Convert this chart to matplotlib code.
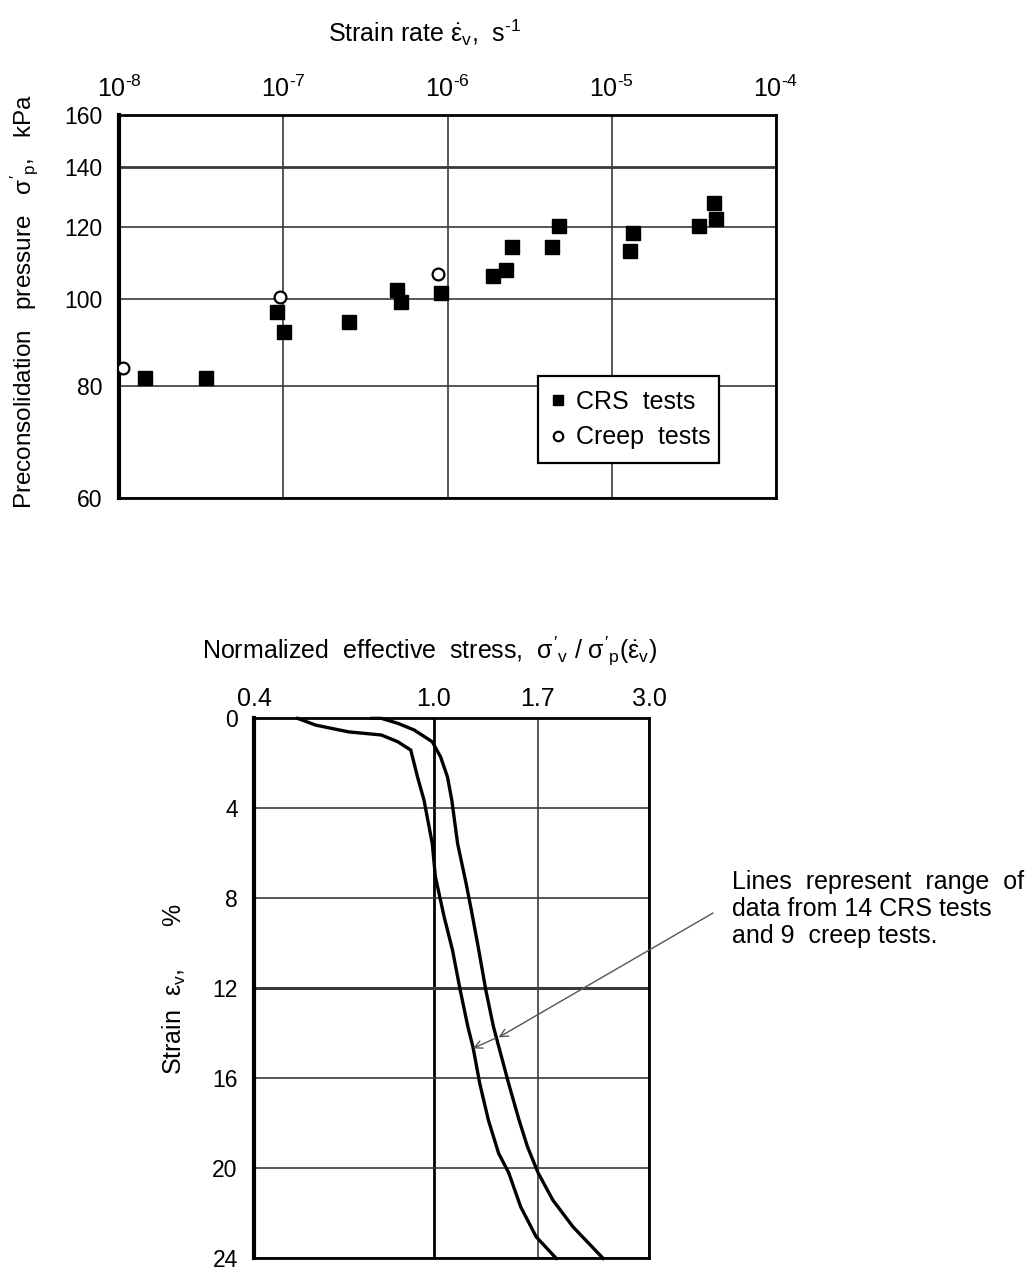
import matplotlib
matplotlib.use("Agg")
import matplotlib.pyplot as plt
from matplotlib.ticker import FixedLocator, FixedFormatter, NullLocator

plt.rcParams["font.family"] = ["Liberation Sans", "DejaVu Sans"]
plt.rcParams["mathtext.fontset"] = "custom"
plt.rcParams["mathtext.rm"] = "Liberation Sans"
plt.rcParams["mathtext.it"] = "Liberation Sans"
plt.rcParams["mathtext.bf"] = "Liberation Sans:bold"

# --- upper panel: preconsolidation pressure vs strain rate
crs_rate = [1.45e-8, 3.4e-8, 9.2e-8, 1.01e-7, 2.5e-7, 4.9e-7, 5.2e-7, 9.1e-7,
            1.9e-6, 2.28e-6, 2.47e-6, 4.3e-6, 4.8e-6, 1.3e-5, 1.35e-5,
            3.4e-5, 4.2e-5, 4.3e-5]
crs_sigma_p = [81.6, 81.6, 96.5, 91.8, 94.2, 102.2, 99.0, 101.5,
               106.0, 107.5, 114.2, 114.2, 120.4, 112.9, 118.4,
               120.4, 127.6, 122.5]
creep_rate = [1.06e-8, 9.5e-8, 8.8e-7]
creep_sigma_p = [83.6, 100.3, 106.5]

rate_ticks = [1e-8, 1e-7, 1e-6, 1e-5, 1e-4]
rate_labels = [r"$10^{\text{-8}}$", r"$10^{\text{-7}}$", r"$10^{\text{-6}}$",
               r"$10^{\text{-5}}$", r"$10^{\text{-4}}$"]
sigma_ticks = [60, 80, 100, 120, 140, 160]

# --- lower panel: strain vs normalized effective stress (range of curves)
lower_ratio = [0.499, 0.547, 0.647, 0.765, 0.832, 0.889, 0.920, 0.951, 0.992,
               1.008, 1.054, 1.100, 1.145, 1.190, 1.221, 1.265, 1.321, 1.392,
               1.466, 1.558, 1.686, 1.868]
lower_strain = [0.0, 0.30, 0.60, 0.74, 1.04, 1.41, 2.60, 3.63, 5.56,
                7.04, 8.82, 10.30, 12.11, 13.71, 14.6, 16.25, 17.85, 19.33,
                20.2, 21.71, 23.04, 24.0]
upper_ratio = [0.727, 0.765, 0.832, 0.905, 0.992, 1.035, 1.072, 1.096, 1.129,
               1.179, 1.211, 1.254, 1.305, 1.356, 1.466, 1.545, 1.613, 1.703,
               1.836, 2.035, 2.373]
upper_strain = [0.0, 0.0, 0.22, 0.52, 1.04, 1.71, 2.60, 3.63, 5.56,
                7.33, 8.52, 10.15, 12.11, 13.71, 16.25, 17.85, 19.04, 20.2,
                21.41, 22.6, 24.0]

ratio_ticks = [0.4, 1.0, 1.7, 3.0]
ratio_labels = ["0.4", "1.0", "1.7", "3.0"]
strain_ticks = [0, 4, 8, 12, 16, 20, 24]

GRID = "#3a3a3a"
FS = 16.5
FS_TXT = 18

fig = plt.figure(figsize=(10.31, 12.73), dpi=100)

# upper chart
ax1 = fig.add_axes([0.1154, 0.6088, 0.6373, 0.3009])
ax1.set_xscale("log")
ax1.set_yscale("log")
ax1.set_xlim(1e-8, 1e-4)
ax1.set_ylim(60, 160)
ax1.xaxis.set_major_locator(FixedLocator(rate_ticks))
ax1.xaxis.set_major_formatter(FixedFormatter(rate_labels))
ax1.xaxis.set_minor_locator(NullLocator())
ax1.yaxis.set_major_locator(FixedLocator(sigma_ticks))
ax1.yaxis.set_major_formatter(FixedFormatter([str(v) for v in sigma_ticks]))
ax1.yaxis.set_minor_locator(NullLocator())
ax1.xaxis.tick_top()
ax1.tick_params(axis="x", length=0, pad=9, labelsize=FS_TXT)
ax1.tick_params(axis="y", length=0, pad=12, labelsize=FS)
ax1.grid(True, color=GRID, lw=1.2)
ax1.yaxis.get_gridlines()[4].set_linewidth(2.0)  # 140 line heavier
ax1.set_axisbelow(True)

ax1.plot(crs_rate, crs_sigma_p, "s", color="black", ms=9.5, ls="none",
         label="CRS  tests", zorder=3)
ax1.plot(creep_rate, creep_sigma_p, "o", mfc="white", mec="black", mew=1.6,
         ms=8.5, ls="none", label="Creep  tests", zorder=3)

for side in ["top", "right", "bottom"]:
    ax1.spines[side].set_linewidth(2.0)
ax1.spines["left"].set_linewidth(3.0)

leg = ax1.legend(loc="lower left", bbox_to_anchor=(0.638, 0.091, 0.275, 0.256),
                 mode="expand", fontsize=FS_TXT, frameon=True, fancybox=False,
                 edgecolor="black", handlelength=0.5, handletextpad=0.45,
                 markerscale=0.8, borderpad=0.55, labelspacing=0.45,
                 borderaxespad=0.0)
leg.get_frame().set_linewidth(1.6)
leg.get_frame().set_alpha(1.0)

fig.text(425 / 1031, 1 - 42 / 1273,
         r"Strain rate $\dot{\varepsilon}_{\rm v}$,  s$^{\text{-1}}$",
         ha="center", va="baseline", fontsize=FS_TXT)
fig.text(24 / 1031, 1 - 302 / 1273,
         r"Preconsolidation   pressure   $\sigma'_{\rm p}$,   kPa",
         rotation=90, ha="center", va="center", fontsize=17.5)

# lower chart
ax2 = fig.add_axes([0.2467, 0.0115, 0.3828, 0.4242])
ax2.set_xscale("log")
ax2.set_xlim(0.4, 3.0)
ax2.set_ylim(24, 0)
ax2.xaxis.set_major_locator(FixedLocator(ratio_ticks))
ax2.xaxis.set_major_formatter(FixedFormatter(ratio_labels))
ax2.xaxis.set_minor_locator(NullLocator())
ax2.yaxis.set_major_locator(FixedLocator(strain_ticks))
ax2.xaxis.tick_top()
ax2.tick_params(axis="x", length=0, pad=5, labelsize=18)
ax2.tick_params(axis="y", length=0, pad=12, labelsize=16.5)
ax2.grid(True, color=GRID, lw=1.2)
ax2.yaxis.get_gridlines()[3].set_linewidth(2.2)  # 12 % line
ax2.xaxis.get_gridlines()[1].set_linewidth(2.0)  # ratio 1.0
ax2.xaxis.get_gridlines()[1].set_color("black")
ax2.set_axisbelow(True)

ax2.plot(lower_ratio, lower_strain, color="black", lw=2.4, clip_on=False)
ax2.plot(upper_ratio, upper_strain, color="black", lw=2.4, clip_on=False)

for side in ["top", "right", "bottom"]:
    ax2.spines[side].set_linewidth(2.0)
ax2.spines["left"].set_linewidth(3.0)

fig.text(430 / 1031, 1 - 659 / 1273,
         r"Normalized  effective  stress,  $\sigma'_{\rm v}$ / "
         r"$\sigma'_{\rm p}(\dot{\varepsilon}_{\rm v})$",
         ha="center", va="baseline", fontsize=FS_TXT)
fig.text(174 / 1031, 1 - 989 / 1273, r"Strain  $\varepsilon_{\rm v}$,      %",
         rotation=90, ha="center", va="center", fontsize=FS_TXT)

# note with arrows to both curves
fig.text(732 / 1031, 1 - 870 / 1273,
         "Lines  represent  range  of\ndata from 14 CRS tests\nand 9  creep tests.",
         ha="left", va="top", fontsize=FS_TXT, linespacing=1.15)
arrow_kw = dict(arrowstyle="->", color="#555555", lw=1.0,
                shrinkA=0, shrinkB=0, mutation_scale=14)
ax2.annotate("", xy=(1.392, 14.18), xycoords="data",
             xytext=(713 / 1031, 1 - 913 / 1273), textcoords="figure fraction",
             arrowprops=arrow_kw)
ax2.annotate("", xy=(1.221, 14.67), xycoords="data",
             xytext=(1.368, 14.22), textcoords="data",
             arrowprops=arrow_kw)

fig.savefig("out.png", dpi=100, facecolor="white")
plt.close(fig)
